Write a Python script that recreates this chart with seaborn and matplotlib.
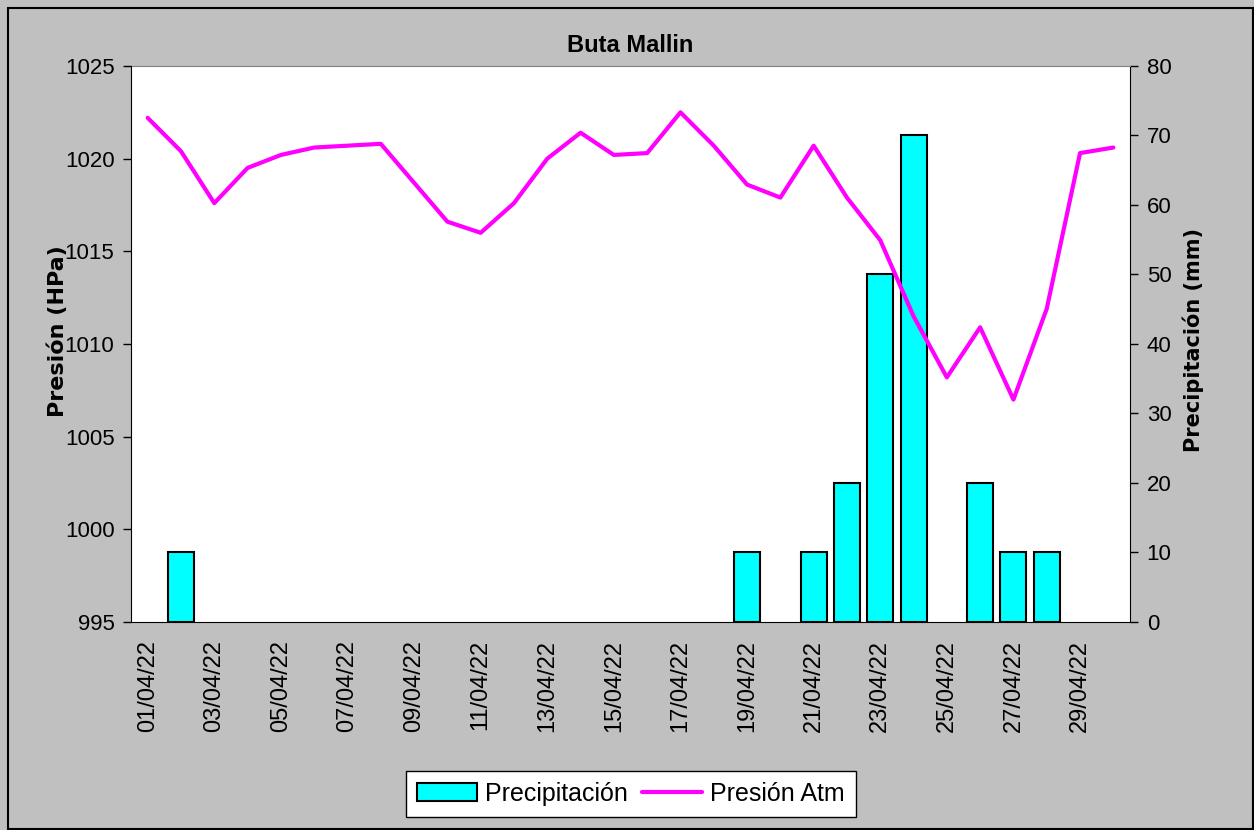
import matplotlib
matplotlib.use('Agg')
import matplotlib.pyplot as plt
from matplotlib.patches import Rectangle, Patch
from matplotlib.lines import Line2D
import seaborn as sns
import numpy as np

# datos diarios abril 2022
fechas = ["01/04/22", "02/04/22", "03/04/22", "04/04/22", "05/04/22", "06/04/22",
          "07/04/22", "08/04/22", "09/04/22", "10/04/22", "11/04/22", "12/04/22",
          "13/04/22", "14/04/22", "15/04/22", "16/04/22", "17/04/22", "18/04/22",
          "19/04/22", "20/04/22", "21/04/22", "22/04/22", "23/04/22", "24/04/22",
          "25/04/22", "26/04/22", "27/04/22", "28/04/22", "29/04/22", "30/04/22"]
presion = [1022.2, 1020.4, 1017.6, 1019.5, 1020.2, 1020.6, 1020.7, 1020.8, 1018.7, 1016.6,
           1016.0, 1017.6, 1020.0, 1021.4, 1020.2, 1020.3, 1022.5, 1020.7, 1018.6, 1017.9,
           1020.7, 1017.9, 1015.6, 1011.5, 1008.2, 1010.9, 1007.0, 1011.9, 1020.3, 1020.6]
precipitacion = [0, 10, 0, 0, 0, 0, 0, 0, 0, 0,
                 0, 0, 0, 0, 0, 0, 0, 0, 10, 0,
                 10, 20, 50, 70, 0, 20, 10, 10, 0, 0]

sns.set_style("white")
plt.rcParams['font.family'] = ['Liberation Sans', 'DejaVu Sans']
plt.rcParams['text.color'] = 'black'
plt.rcParams['axes.labelcolor'] = 'black'
plt.rcParams['xtick.color'] = 'black'
plt.rcParams['ytick.color'] = 'black'

gris = '#C0C0C0'
fig = plt.figure(figsize=(12.54, 8.30), dpi=100, facecolor=gris)
fig.patches.append(Rectangle((0.0064, 0.001), 0.9926, 0.989, transform=fig.transFigure,
                             fill=False, edgecolor='black', linewidth=1.5))

ax = fig.add_axes([0.1045, 0.2506, 0.7966, 0.6699])
ax.set_facecolor('white')
idx = np.arange(len(fechas))

# barras de precipitación (eje derecho)
sns.barplot(x=idx, y=precipitacion, native_scale=True, width=0.78, color='#00FFFF',
            saturation=1, edgecolor='black', linewidth=1.5, ax=ax)
# sin borde en los dias sin lluvia
for p in ax.patches:
    if p.get_height() == 0:
        p.set_linewidth(0)
ax.set_ylim(0, 80)
ax.set_yticks(np.arange(0, 81, 10))

# presión (eje izquierdo, encima)
ax2 = ax.twinx()
sns.lineplot(x=idx, y=presion, color='#FF00FF', linewidth=3, ax=ax2)
ax2.set_ylim(995, 1025)
ax2.set_yticks(np.arange(995, 1026, 5))
ax2.yaxis.tick_left()
ax2.yaxis.set_label_position('left')
ax2.set_ylabel('Presión (HPa)', family='DejaVu Sans', fontweight='bold', fontsize=16)
ax2.yaxis.set_label_coords(-0.063, 0.523)

# twinx pone el eje original a la izquierda, se corrige despues
ax.yaxis.tick_right()
ax.yaxis.set_label_position('right')
ax.set_ylabel('Precipitación (mm)', family='DejaVu Sans', fontweight='bold', fontsize=15)
ax.yaxis.set_label_coords(1.053, 0.508)

for a in (ax, ax2):
    a.set_xlim(-0.5, len(fechas) - 0.5)
    for s in a.spines.values():
        s.set_visible(False)

ax.spines['bottom'].set_visible(True)
ax.spines['bottom'].set_color('black')
ax.spines['right'].set_visible(True)
ax.spines['right'].set_color('black')
ax.spines['top'].set_visible(True)
ax.spines['top'].set_color('#808080')
ax2.spines['left'].set_visible(True)
ax2.spines['left'].set_color('black')

ax.set_xticks(np.arange(-0.5, len(fechas), 1))
ax.set_xticklabels([])
ax.set_xticks(idx[::2], minor=True)
ax.set_xticklabels(fechas[::2], minor=True, rotation=90, fontsize=17)
ax.tick_params(axis='x', which='major', direction='out', length=7, width=1, bottom=True)
ax.tick_params(axis='x', which='minor', length=0, pad=13)
ax.tick_params(axis='y', direction='out', length=6, width=1, right=True, left=False,
               labelsize=16, pad=6)
ax2.tick_params(axis='y', direction='out', length=6, width=1, left=True, right=False,
                labelsize=16, pad=6)
ax2.set_xticks([])

ax.set_title('Buta Mallin', fontweight='bold', fontsize=17, pad=10)

handles = [Patch(facecolor='#00FFFF', edgecolor='black', linewidth=1.5),
           Line2D([0], [0], color='#FF00FF', linewidth=3)]
fig.legend(handles, ['Precipitación', 'Presión Atm'], loc='center',
           bbox_to_anchor=(0.503, 0.0435), ncol=2, fontsize=18, frameon=True,
           fancybox=False, edgecolor='black', framealpha=1, columnspacing=0.6,
           handletextpad=0.3, handlelength=2.4, borderpad=0.45)

fig.savefig('out.png', dpi=100, facecolor=gris)
